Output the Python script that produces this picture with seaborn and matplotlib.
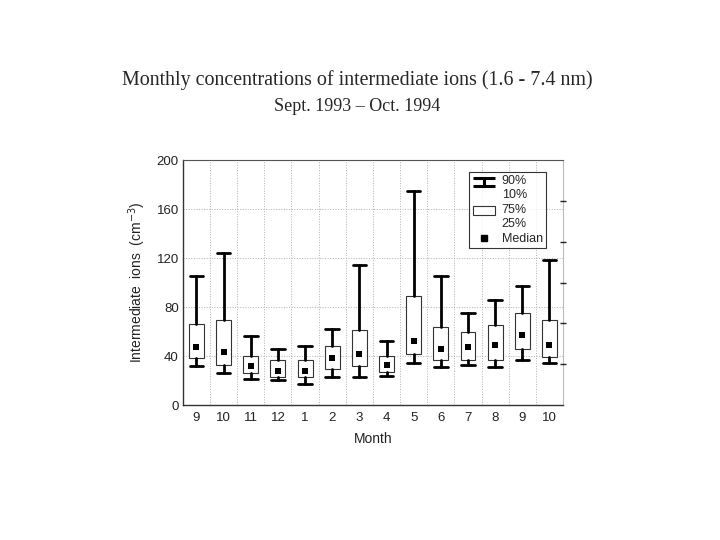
import numpy as np
import pandas as pd
import matplotlib
matplotlib.use('Agg')
import matplotlib.pyplot as plt
from matplotlib.lines import Line2D
from matplotlib.patches import Rectangle
from matplotlib.legend_handler import HandlerBase
import seaborn as sns

# monthly percentiles (cm^-3)
months = ['9', '10', '11', '12', '1', '2', '3', '4', '5', '6', '7', '8', '9', '10']
p90 = [105, 124, 56, 46, 48, 62, 114, 52, 175, 105, 75, 86, 97, 118]
p75 = [66, 69, 40, 36.5, 36.5, 48, 61, 40, 89, 64, 60, 65, 75, 69]
median = [47, 43, 31.5, 28, 28, 38, 41.5, 33, 52.5, 45.5, 47, 49, 57.5, 49]
p25 = [38, 33, 26.5, 22.5, 22.5, 29.5, 32, 27, 41.5, 36.5, 37, 37, 45.5, 39]
p10 = [32, 26.5, 21.5, 20.5, 17, 23, 23, 24, 34, 31, 32.5, 31, 36.5, 34.5]

df = pd.DataFrame({'pos': np.arange(len(months)), 'month': months,
                   'p10': p10, 'p25': p25, 'median': median, 'p75': p75, 'p90': p90})

sns.set_style('white')
plt.rcParams['font.family'] = ['Liberation Sans', 'DejaVu Sans']


class WhiskerHandler(HandlerBase):
    def create_artists(self, legend, orig_handle, xdescent, ydescent,
                       width, height, fontsize, trans):
        x0 = -xdescent + 0.05 * width
        x1 = -xdescent + 0.95 * width
        xm = (x0 + x1) / 2
        shift = fontsize * 0.5
        yb = -ydescent + shift
        yt = -ydescent + shift + height
        kw = dict(color='black', lw=2.2, transform=trans, solid_capstyle='butt')
        return [Line2D([x0, x1], [yt, yt], **kw),
                Line2D([x0, x1], [yb, yb], **kw),
                Line2D([xm, xm], [yb, yt], **kw)]


class BoxHandler(HandlerBase):
    def create_artists(self, legend, orig_handle, xdescent, ydescent,
                       width, height, fontsize, trans):
        shift = fontsize * 0.5
        r = Rectangle((-xdescent + 0.05 * width, -ydescent + shift),
                      0.9 * width, height, facecolor='white',
                      edgecolor='#333333', lw=0.8, transform=trans)
        return [r]


fig = plt.figure(figsize=(7.2, 5.4), dpi=100)
ax = fig.add_axes([0.254, 0.25, 0.528, 0.4537])

stats = [dict(med=r.median, q1=r.p25, q3=r.p75, whislo=r.p10, whishi=r.p90, fliers=[])
         for r in df.itertuples()]
ax.bxp(stats, positions=df['pos'], widths=0.55, capwidths=0.5, patch_artist=True,
       boxprops=dict(facecolor='white', edgecolor='#333333', lw=0.8),
       whiskerprops=dict(color='black', lw=2.0),
       capprops=dict(color='black', lw=2.0),
       medianprops=dict(lw=0), showfliers=False, manage_ticks=False)

sns.scatterplot(data=df, x='pos', y='median', marker='s', color='black',
                s=22, linewidth=0, ax=ax, zorder=4, legend=False)

ax.set_xlim(-0.5, len(months) - 0.5)
ax.set_ylim(0, 200)
ax.set_xticks(df['pos'])
ax.set_xticklabels(months)
ax.set_xticks(np.arange(0.5, len(months) - 1, 1), minor=True)
ax.set_yticks(np.arange(0, 201, 40))
ax.tick_params(axis='x', which='major', length=0, pad=5, labelsize=9.5, labelcolor='#222222')
ax.tick_params(axis='x', which='minor', direction='in', length=4, width=1, color='#222222')
ax.tick_params(axis='y', direction='in', length=0, pad=3, labelsize=9.5, labelcolor='#222222')
ax.grid(True, axis='x', which='minor', ls=':', lw=0.7, color='#b0b0b0')
ax.grid(True, axis='y', which='major', ls=':', lw=0.7, color='#b0b0b0')
ax.set_axisbelow(True)

for side in ['left', 'bottom']:
    ax.spines[side].set_color('#333333')
    ax.spines[side].set_linewidth(1.0)
ax.spines['top'].set_color('#555555')
ax.spines['top'].set_linewidth(0.8)
ax.spines['right'].set_color('#bbbbbb')
ax.spines['right'].set_linewidth(0.8)

ax2 = ax.twinx()
ax2.set_ylim(0, 200)
ax2.set_yticks([33.3, 66.7, 100, 133.3, 166.7])
ax2.set_yticklabels([])
ax2.tick_params(axis='y', direction='inout', length=5, width=1, color='#222222')
for s in ax2.spines.values():
    s.set_visible(False)

ax.set_xlabel('Month', fontsize=10, color='#222222', labelpad=6)
ax.set_ylabel('Intermediate  ions  (cm$^{-3}$)', fontsize=10, color='#222222', labelpad=6)

handles = [Line2D([], []), Rectangle((0, 0), 1, 1),
           Line2D([], [], marker='s', color='black', ls='none', markersize=4.5)]
labels = ['90%\n10%', '75%\n25%', 'Median']
leg = ax.legend(handles, labels, loc='upper right', bbox_to_anchor=(0.955, 0.951),
                borderaxespad=0, fontsize=9, frameon=True, fancybox=False,
                handlelength=2.0, handletextpad=0.4, labelspacing=0.25,
                borderpad=0.25, handler_map={handles[0]: WhiskerHandler(),
                                             handles[1]: BoxHandler()})
leg.get_frame().set_edgecolor('black')
leg.get_frame().set_linewidth(0.8)
leg.set_zorder(10)

fig.text(0.496, 0.852, 'Monthly concentrations of intermediate ions (1.6 - 7.4 nm)',
         ha='center', va='center', family='Liberation Serif', fontsize=14.4)
fig.text(0.496, 0.803, 'Sept. 1993 \u2013 Oct. 1994',
         ha='center', va='center', family='Liberation Serif', fontsize=13)

fig.savefig('out.png', dpi=100, facecolor='white')
